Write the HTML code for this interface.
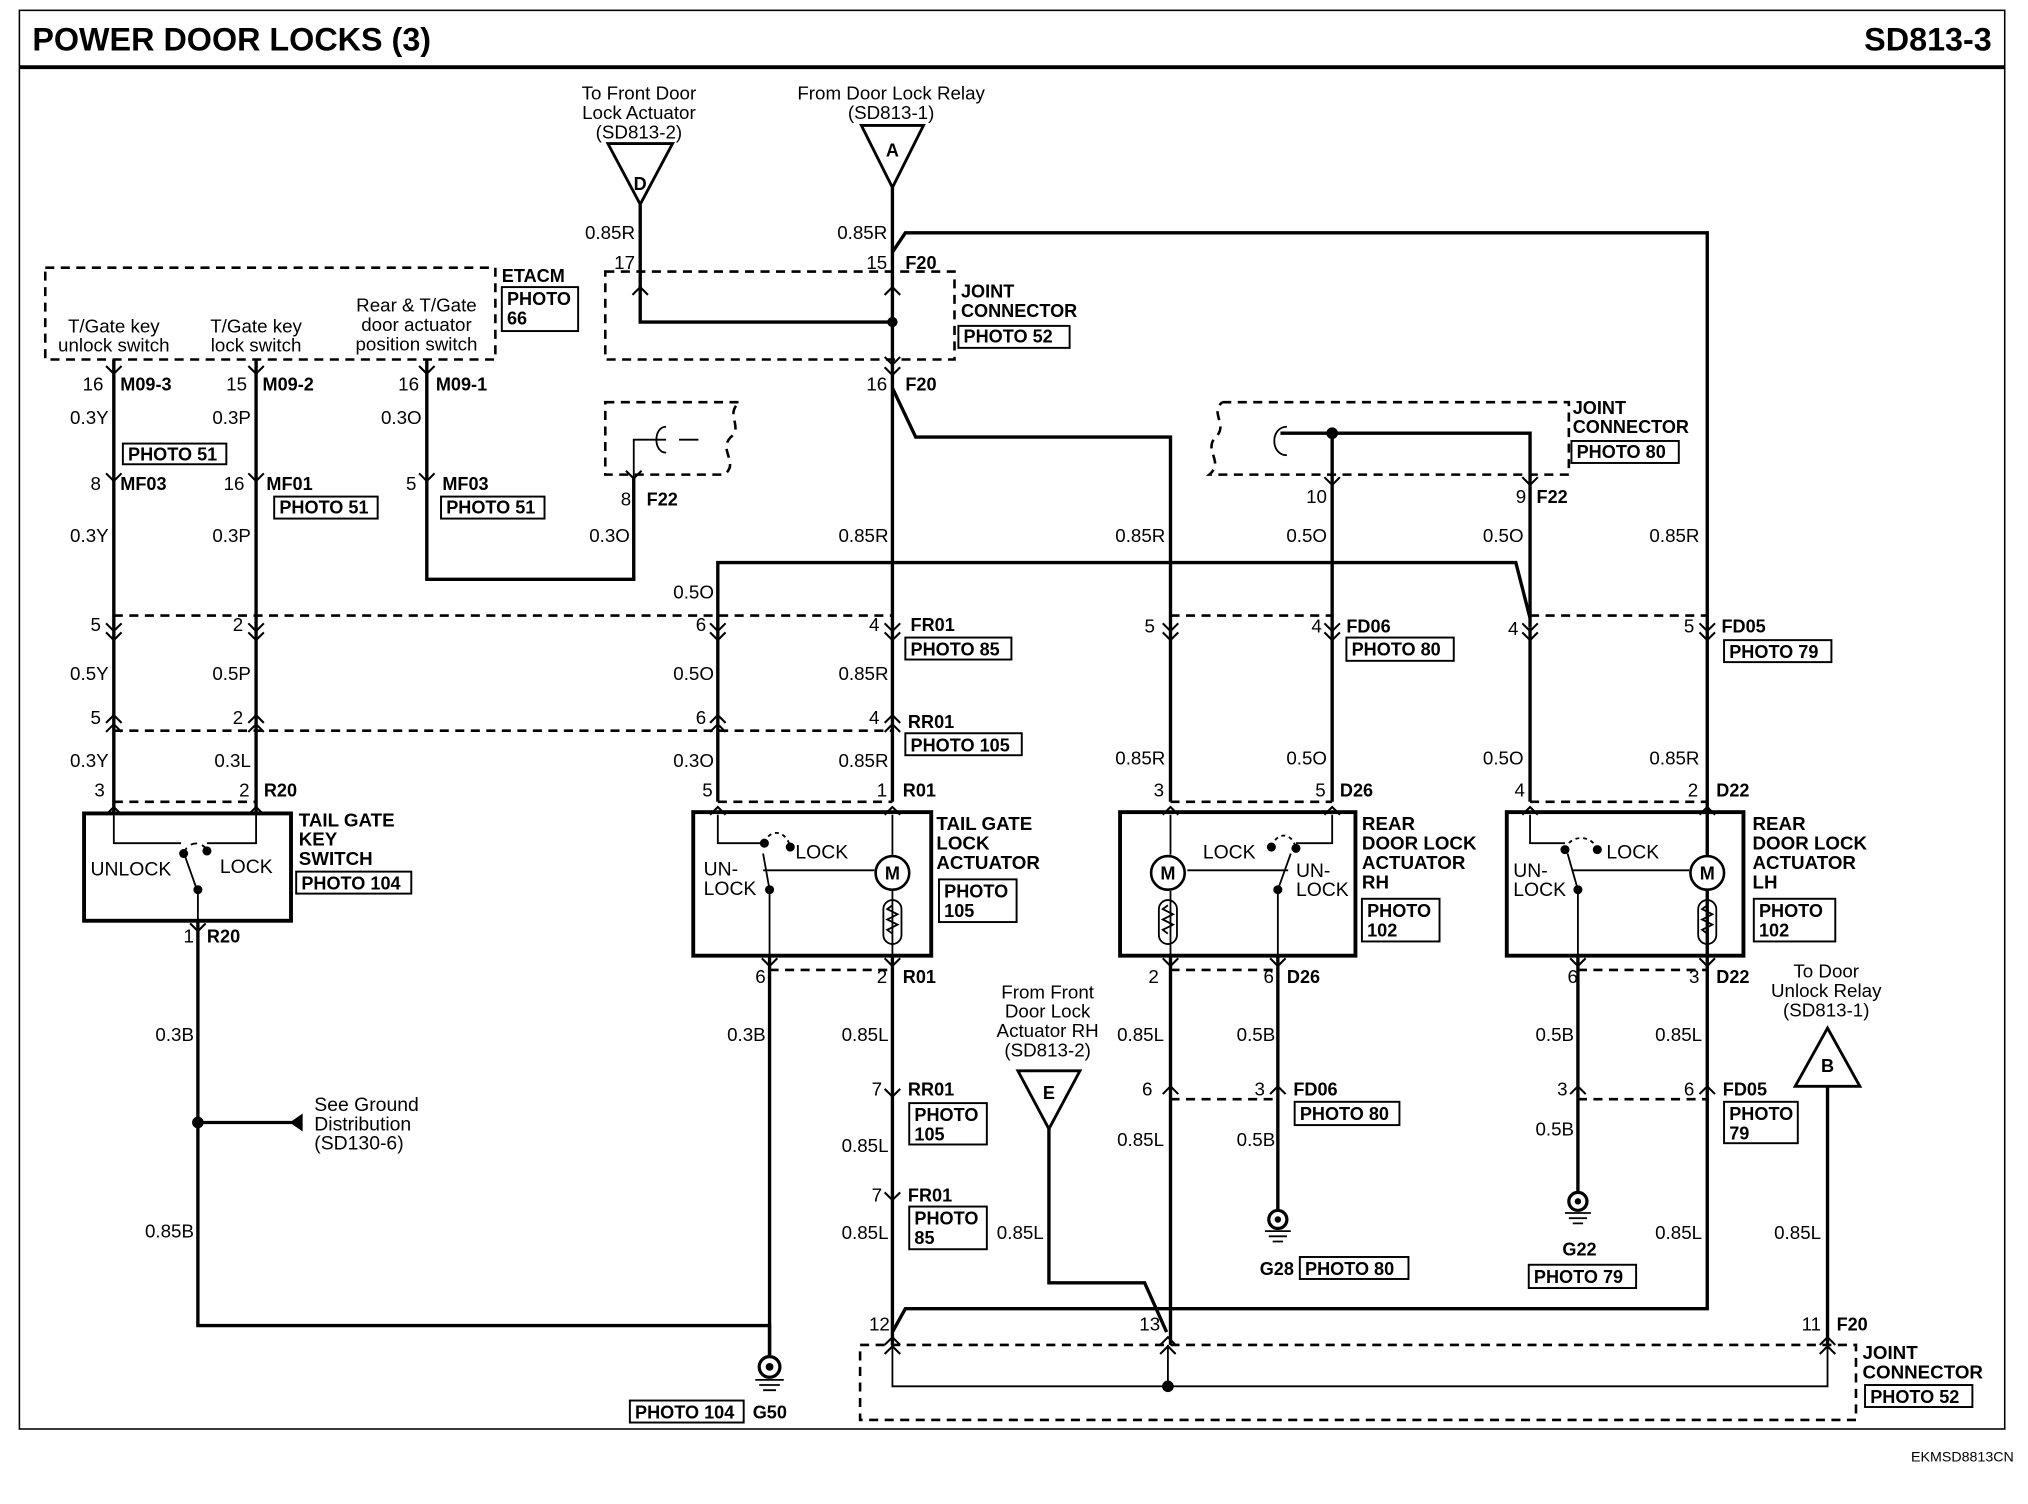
<!DOCTYPE html>
<html><head><meta charset="utf-8"><style>
html,body{margin:0;padding:0;background:#fff}
svg{display:block}
text{font-family:"Liberation Sans",Arial,sans-serif;fill:#000}
.t{font-size:14.5px}
.b{font-size:14px;font-weight:bold}
.w{stroke:#000;stroke-width:2.6;fill:none}
.n{stroke:#000;stroke-width:1.4;fill:none}
.d{stroke:#000;stroke-width:2;fill:none;stroke-dasharray:7,5}
.dt{stroke:#000;stroke-width:1.4;fill:none;stroke-dasharray:5,4}
.c{stroke:#000;stroke-width:1.6;fill:none}
.box{stroke:#000;stroke-width:3;fill:none}
.pb{stroke:#000;stroke-width:1.5;fill:none}
</style></head><body>
<svg width="2028" height="1504" viewBox="0 0 1568 1163" preserveAspectRatio="none" xmlns="http://www.w3.org/2000/svg">
<rect x="0" y="0" width="1568" height="1163" fill="#fff"/>
<rect x="15" y="8" width="1535" height="1097" fill="none" stroke="#000" stroke-width="1.2"/>
<line x1="15" y1="52" x2="1550" y2="52" stroke="#000" stroke-width="3"/>
<text x="25" y="39" style="font-size:25px;font-weight:bold">POWER DOOR LOCKS (3)</text>
<text x="1540" y="39" text-anchor="end" style="font-size:25px;font-weight:bold">SD813-3</text>
<text x="1557" y="1130" text-anchor="end" style="font-size:11px">EKMSD8813CN</text>

<polygon points="470,111 520,111 495,158" fill="#fff" stroke="#000" stroke-width="2.2"/>
<text x="495" y="147" text-anchor="middle" class="b">D</text>
<text x="494" y="77" text-anchor="middle" class="t">To Front Door</text>
<text x="494" y="92" text-anchor="middle" class="t">Lock Actuator</text>
<text x="494" y="107" text-anchor="middle" class="t">(SD813-2)</text>
<polygon points="666,97 714,97 690,145" fill="#fff" stroke="#000" stroke-width="2.2"/>
<text x="690" y="121" text-anchor="middle" class="b">A</text>
<text x="689" y="77" text-anchor="middle" class="t">From Door Lock Relay</text>
<text x="689" y="92" text-anchor="middle" class="t">(SD813-1)</text>
<polygon points="787,828 835,828 811,873" fill="#fff" stroke="#000" stroke-width="2.2"/>
<text x="811" y="850" text-anchor="middle" class="b">E</text>
<text x="810" y="772" text-anchor="middle" class="t">From Front</text>
<text x="810" y="787" text-anchor="middle" class="t">Door Lock</text>
<text x="810" y="802" text-anchor="middle" class="t">Actuator RH</text>
<text x="810" y="817" text-anchor="middle" class="t">(SD813-2)</text>
<polygon points="1388,840 1438,840 1413,795" fill="#fff" stroke="#000" stroke-width="2.2"/>
<text x="1413" y="829" text-anchor="middle" class="b">B</text>
<text x="1412" y="756" text-anchor="middle" class="t">To Door</text>
<text x="1412" y="771" text-anchor="middle" class="t">Unlock Relay</text>
<text x="1412" y="786" text-anchor="middle" class="t">(SD813-1)</text>

<rect x="468" y="210" width="270" height="68" class="d"/>
<text x="743" y="230" class="b">JOINT</text>
<text x="743" y="245" class="b">CONNECTOR</text>
<rect x="741" y="252" width="86" height="17" class="pb"/><text x="745" y="265" class="b">PHOTO 52</text>
<path class="w" d="M495 158 V249 H690"/>
<circle cx="690" cy="249" r="4"/>
<path class="w" d="M690 145 V620"/>
<path class="w" d="M690 195 L700 180 H1320 V1012 H700 L690 1030"/>
<path class="c" d="M489 228 L495 222 L501 228 M684 228 L690 222 L696 228 M684 284 L690 290 L696 284 M684 276 L690 282 L696 276"/>
<text x="491" y="185" text-anchor="end" class="t">0.85R</text>
<text x="491" y="208" text-anchor="end" class="t">17</text>
<text x="686" y="185" text-anchor="end" class="t">0.85R</text>
<text x="686" y="208" text-anchor="end" class="t">15</text><text x="700" y="208" class="b">F20</text>
<text x="686" y="302" text-anchor="end" class="t">16</text><text x="700" y="302" class="b">F20</text>
<path class="w" d="M690 300 L708 338 H905 V620"/>

<rect x="35" y="207" width="348" height="71" class="d"/>
<text x="388" y="218" class="b">ETACM</text>
<rect x="388" y="222" width="59" height="34" class="pb"/><text x="392" y="236" class="b">PHOTO</text><text x="392" y="251" class="b">66</text>
<text x="88" y="257" text-anchor="middle" class="t">T/Gate key</text><text x="88" y="272" text-anchor="middle" class="t">unlock switch</text>
<text x="198" y="257" text-anchor="middle" class="t">T/Gate key</text><text x="198" y="272" text-anchor="middle" class="t">lock switch</text>
<text x="322" y="241" text-anchor="middle" class="t">Rear &amp; T/Gate</text><text x="322" y="256" text-anchor="middle" class="t">door actuator</text><text x="322" y="271" text-anchor="middle" class="t">position switch</text>
<path class="w" d="M88 278 V628 M198 278 V628 M330 278 V448 H490 V370"/>
<path class="c" d="M82 283 L88 289 L94 283 M192 283 L198 289 L204 283 M324 283 L330 289 L336 283 M82 366 L88 372 L94 366 M192 366 L198 372 L204 366 M324 366 L330 372 L336 366"/>
<text x="80" y="302" text-anchor="end" class="t">16</text><text x="93" y="302" class="b">M09-3</text>
<text x="191" y="302" text-anchor="end" class="t">15</text><text x="203" y="302" class="b">M09-2</text>
<text x="324" y="302" text-anchor="end" class="t">16</text><text x="337" y="302" class="b">M09-1</text>
<text x="84" y="328" text-anchor="end" class="t">0.3Y</text><text x="194" y="328" text-anchor="end" class="t">0.3P</text><text x="326" y="328" text-anchor="end" class="t">0.3O</text>
<rect x="95" y="343" width="80" height="16" class="pb"/><text x="99" y="356" class="b">PHOTO 51</text>
<text x="78" y="379" text-anchor="end" class="t">8</text><text x="93" y="379" class="b">MF03</text>
<text x="189" y="379" text-anchor="end" class="t">16</text><text x="206" y="379" class="b">MF01</text>
<rect x="212" y="384" width="80" height="17" class="pb"/><text x="216" y="397" class="b">PHOTO 51</text>
<text x="322" y="379" text-anchor="end" class="t">5</text><text x="342" y="379" class="b">MF03</text>
<rect x="341" y="384" width="80" height="17" class="pb"/><text x="345" y="397" class="b">PHOTO 51</text>
<text x="84" y="419" text-anchor="end" class="t">0.3Y</text><text x="194" y="419" text-anchor="end" class="t">0.3P</text>

<path class="d" d="M468 311 H572 C560 320 575 330 565 338 C555 348 572 358 560 367 H468 Z"/>
<path class="n" d="M490 370 V340 H515 M515 330 C505 330 505 350 515 350 M525 340 H540"/>
<path class="c" d="M484 364 L490 370 L496 364"/>
<text x="488" y="391" text-anchor="end" class="t">8</text><text x="500" y="391" class="b">F22</text>
<text x="487" y="419" text-anchor="end" class="t">0.3O</text>

<path class="d" d="M945 311 H1213 V367 H935 C947 357 930 348 940 338 C950 328 935 320 945 311"/>
<path class="n" d="M995 330 C982 330 982 352 995 352"/>
<path class="w" d="M990 335 H1183 V485 M1030 335 V620"/>
<path class="w" d="M555 620 V435 H1172 L1183 478"/>
<path class="w" d="M1183 485 V620"/>
<circle cx="1030" cy="335" r="4.5"/>
<path class="c" d="M1024 369 L1030 375 L1036 369 M1177 369 L1183 375 L1189 369"/>
<text x="1026" y="389" text-anchor="end" class="t">10</text>
<text x="1180" y="389" text-anchor="end" class="t">9</text><text x="1188" y="389" class="b">F22</text>
<text x="1216" y="320" class="b">JOINT</text><text x="1216" y="335" class="b">CONNECTOR</text>
<rect x="1215" y="341" width="83" height="17" class="pb"/><text x="1219" y="354" class="b">PHOTO 80</text>
<text x="687" y="419" text-anchor="end" class="t">0.85R</text>
<text x="901" y="419" text-anchor="end" class="t">0.85R</text>
<text x="1026" y="419" text-anchor="end" class="t">0.5O</text>
<text x="1178" y="419" text-anchor="end" class="t">0.5O</text>
<text x="1314" y="419" text-anchor="end" class="t">0.85R</text>
<text x="552" y="463" text-anchor="end" class="t">0.5O</text>

<path class="d" d="M88 476 H690 M905 476 H1030 M1183 476 H1320"/>
<path class="d" d="M88 565 H690"/>
<path class="c" d="M82 482 L88 488 L94 482 M82 489 L88 495 L94 489 M192 482 L198 488 L204 482 M192 489 L198 495 L204 489 M549 482 L555 488 L561 482 M549 489 L555 495 L561 489 M684 482 L690 488 L696 482 M684 489 L690 495 L696 489 M899 482 L905 488 L911 482 M899 489 L905 495 L911 489 M1024 482 L1030 488 L1036 482 M1024 489 L1030 495 L1036 489 M1177 482 L1183 488 L1189 482 M1177 489 L1183 495 L1189 489 M1314 482 L1320 488 L1326 482 M1314 489 L1320 495 L1326 489"/>
<text x="78" y="488" text-anchor="end" class="t">5</text><text x="188" y="488" text-anchor="end" class="t">2</text><text x="546" y="488" text-anchor="end" class="t">6</text><text x="680" y="488" text-anchor="end" class="t">4</text><text x="704" y="488" class="b">FR01</text>
<rect x="700" y="493" width="82" height="17" class="pb"/><text x="704" y="507" class="b">PHOTO 85</text>
<text x="893" y="489" text-anchor="end" class="t">5</text><text x="1022" y="489" text-anchor="end" class="t">4</text><text x="1041" y="489" class="b">FD06</text>
<rect x="1041" y="493" width="83" height="18" class="pb"/><text x="1045" y="507" class="b">PHOTO 80</text>
<text x="1174" y="491" text-anchor="end" class="t">4</text><text x="1310" y="489" text-anchor="end" class="t">5</text><text x="1331" y="489" class="b">FD05</text>
<rect x="1333" y="495" width="83" height="17" class="pb"/><text x="1337" y="509" class="b">PHOTO 79</text>
<text x="84" y="526" text-anchor="end" class="t">0.5Y</text><text x="194" y="526" text-anchor="end" class="t">0.5P</text><text x="552" y="526" text-anchor="end" class="t">0.5O</text><text x="687" y="526" text-anchor="end" class="t">0.85R</text>
<path class="c" d="M82 559 L88 553 L94 559 M82 566 L88 560 L94 566 M192 559 L198 553 L204 559 M192 566 L198 560 L204 566 M549 559 L555 553 L561 559 M549 566 L555 560 L561 566 M684 559 L690 553 L696 559 M684 566 L690 560 L696 566"/>
<text x="78" y="560" text-anchor="end" class="t">5</text><text x="188" y="560" text-anchor="end" class="t">2</text><text x="546" y="560" text-anchor="end" class="t">6</text><text x="680" y="560" text-anchor="end" class="t">4</text><text x="702" y="563" class="b">RR01</text>
<rect x="700" y="567" width="90" height="17" class="pb"/><text x="704" y="581" class="b">PHOTO 105</text>
<text x="84" y="593" text-anchor="end" class="t">0.3Y</text><text x="194" y="593" text-anchor="end" class="t">0.3L</text><text x="552" y="593" text-anchor="end" class="t">0.3O</text><text x="687" y="593" text-anchor="end" class="t">0.85R</text>
<text x="901" y="591" text-anchor="end" class="t">0.85R</text><text x="1026" y="591" text-anchor="end" class="t">0.5O</text><text x="1178" y="591" text-anchor="end" class="t">0.5O</text><text x="1314" y="591" text-anchor="end" class="t">0.85R</text>

<path class="d" d="M88 620 H198 M555 620 H690 M905 620 H1030 M1183 620 H1320"/>
<path class="d" d="M595 750 H690 M905 750 H988 M1220 750 H1320"/>
<path class="d" d="M905 850 H988 M1220 850 H1320"/>
<path class="c" d="M82 630 L88 624 L94 630 M192 630 L198 624 L204 630 M549 630 L555 624 L561 630 M684 630 L690 624 L696 630 M899 630 L905 624 L911 630 M1024 630 L1030 624 L1036 630 M1177 630 L1183 624 L1189 630 M1314 630 L1320 624 L1326 630"/>
<text x="81" y="616" text-anchor="end" class="t">3</text><text x="193" y="616" text-anchor="end" class="t">2</text><text x="204" y="616" class="b">R20</text>
<text x="551" y="616" text-anchor="end" class="t">5</text><text x="686" y="616" text-anchor="end" class="t">1</text><text x="698" y="616" class="b">R01</text>
<text x="900" y="616" text-anchor="end" class="t">3</text><text x="1025" y="616" text-anchor="end" class="t">5</text><text x="1036" y="616" class="b">D26</text>
<text x="1179" y="616" text-anchor="end" class="t">4</text><text x="1313" y="616" text-anchor="end" class="t">2</text><text x="1327" y="616" class="b">D22</text>

<rect x="65" y="629" width="160" height="83" class="box"/>
<path class="n" d="M88 629 V652 H140 M198 629 V652 H160 M153 712 V690 L143 662"/>
<circle cx="142" cy="660" r="3.5"/><circle cx="160" cy="658" r="3.5"/><circle cx="153" cy="688" r="3.5"/>
<path class="dt" d="M142 660 C145 650 157 650 160 658"/>
<text x="70" y="677" class="t" style="font-size:15px">UNLOCK</text><text x="170" y="675" class="t" style="font-size:15px">LOCK</text>
<text x="231" y="639" class="b" style="font-size:14.5px">TAIL GATE</text><text x="231" y="654" class="b" style="font-size:14.5px">KEY</text><text x="231" y="669" class="b" style="font-size:14.5px">SWITCH</text>
<rect x="229" y="674" width="89" height="17" class="pb"/><text x="233" y="688" class="b">PHOTO 104</text>
<path class="c" d="M147 714 L153 720 L159 714"/>
<text x="150" y="729" text-anchor="end" class="t">1</text><text x="160" y="729" class="b">R20</text>
<path class="w" d="M153 712 V1025 H595 V1048 M153 868 H232"/>
<circle cx="153" cy="868" r="4.5"/>
<polygon points="224,868 234,861 234,875"/>
<text x="243" y="859" class="t" style="font-size:15px">See Ground</text><text x="243" y="874" class="t" style="font-size:15px">Distribution</text><text x="243" y="889" class="t" style="font-size:15px">(SD130-6)</text>
<text x="150" y="805" text-anchor="end" class="t">0.3B</text><text x="150" y="957" text-anchor="end" class="t">0.85B</text>

<rect x="536" y="628" width="184" height="111" class="box"/>
<path class="n" d="M555 630 V652 H591 M595 750 V688 L590 660 M690 630 V661 M690 689 V750 M590 673 H676"/>
<path class="dt" d="M591 652 C595 640 608 642 611 655" style="stroke-dasharray:3,3"/>
<circle cx="591" cy="652" r="3.5"/><circle cx="611" cy="655" r="3.5"/><circle cx="595" cy="688" r="3.5"/>
<circle cx="690" cy="675" r="13" fill="#fff" stroke="#000" stroke-width="2"/><text x="690" y="680" text-anchor="middle" class="b">M</text>
<rect x="683" y="696" width="14" height="34" rx="7" class="n"/><path class="n" d="M690 700 l-4 3 l8 4 l-8 4 l8 4 l-8 4 l4 3"/>
<text x="544" y="677" class="t" style="font-size:15px">UN-</text><text x="544" y="692" class="t" style="font-size:15px">LOCK</text><text x="615" y="664" class="t" style="font-size:15px">LOCK</text>
<text x="724" y="642" class="b" style="font-size:14.5px">TAIL GATE</text><text x="724" y="657" class="b" style="font-size:14.5px">LOCK</text><text x="724" y="672" class="b" style="font-size:14.5px">ACTUATOR</text>
<rect x="726" y="680" width="60" height="33" class="pb"/><text x="730" y="694" class="b">PHOTO</text><text x="730" y="709" class="b">105</text>
<path class="c" d="M589 741 L595 747 L601 741 M684 741 L690 747 L696 741 M684 842 L690 848 L696 842 M684 922 L690 928 L696 922"/>
<text x="592" y="760" text-anchor="end" class="t">6</text><text x="686" y="760" text-anchor="end" class="t">2</text><text x="698" y="760" class="b">R01</text>
<path class="w" d="M595 739 V1048 M690 739 V1040"/>
<text x="592" y="805" text-anchor="end" class="t">0.3B</text><text x="687" y="805" text-anchor="end" class="t">0.85L</text>
<text x="682" y="847" text-anchor="end" class="t">7</text><text x="702" y="847" class="b">RR01</text>
<rect x="703" y="853" width="60" height="32" class="pb"/><text x="707" y="867" class="b">PHOTO</text><text x="707" y="882" class="b">105</text>
<text x="687" y="891" text-anchor="end" class="t">0.85L</text>
<text x="682" y="929" text-anchor="end" class="t">7</text><text x="702" y="929" class="b">FR01</text>
<rect x="703" y="933" width="60" height="33" class="pb"/><text x="707" y="947" class="b">PHOTO</text><text x="707" y="962" class="b">85</text>
<text x="687" y="958" text-anchor="end" class="t">0.85L</text>
<circle cx="595" cy="1057" r="8" fill="#fff" stroke="#000" stroke-width="2.5"/><circle cx="595" cy="1057" r="3"/>
<path class="n" d="M584 1067 H606 M587 1071 H603 M590 1075 H600"/>
<rect x="487" y="1083" width="88" height="17" class="pb"/><text x="491" y="1097" class="b">PHOTO 104</text>
<text x="582" y="1097" class="b">G50</text>

<rect x="866" y="628" width="182" height="111" class="box"/>
<path class="n" d="M905 630 V661 M905 689 V750 M1030 630 V652 H1002 M988 750 V688 L998 660 M918 673 H996"/>
<circle cx="983" cy="655" r="3.5"/><circle cx="1002" cy="656" r="3.5"/><circle cx="988" cy="688" r="3.5"/>
<path class="dt" d="M983 655 C987 643 999 643 1002 656" style="stroke-dasharray:3,3"/>
<circle cx="903" cy="675" r="13" fill="#fff" stroke="#000" stroke-width="2"/><text x="903" y="680" text-anchor="middle" class="b">M</text>
<rect x="896" y="696" width="14" height="34" rx="7" class="n"/><path class="n" d="M903 700 l-4 3 l8 4 l-8 4 l8 4 l-8 4 l4 3"/>
<text x="930" y="664" class="t" style="font-size:15px">LOCK</text><text x="1002" y="678" class="t" style="font-size:15px">UN-</text><text x="1002" y="693" class="t" style="font-size:15px">LOCK</text>
<text x="1053" y="642" class="b" style="font-size:14.5px">REAR</text><text x="1053" y="657" class="b" style="font-size:14.5px">DOOR LOCK</text><text x="1053" y="672" class="b" style="font-size:14.5px">ACTUATOR</text><text x="1053" y="687" class="b" style="font-size:14.5px">RH</text>
<rect x="1053" y="695" width="60" height="33" class="pb"/><text x="1057" y="709" class="b">PHOTO</text><text x="1057" y="724" class="b">102</text>
<path class="c" d="M899 741 L905 747 L911 741 M982 741 L988 747 L994 741 M899 846 L905 840 L911 846 M982 846 L988 840 L994 846"/>
<text x="896" y="760" text-anchor="end" class="t">2</text><text x="985" y="760" text-anchor="end" class="t">6</text><text x="995" y="760" class="b">D26</text>
<path class="w" d="M905 739 V1040 M988 739 V938 M811 873 V992 H885 L902 1030"/>
<text x="900" y="805" text-anchor="end" class="t">0.85L</text><text x="986" y="805" text-anchor="end" class="t">0.5B</text>
<text x="891" y="847" text-anchor="end" class="t">6</text><text x="978" y="847" text-anchor="end" class="t">3</text><text x="1000" y="847" class="b">FD06</text>
<rect x="1001" y="852" width="81" height="18" class="pb"/><text x="1005" y="866" class="b">PHOTO 80</text>
<text x="900" y="886" text-anchor="end" class="t">0.85L</text><text x="986" y="886" text-anchor="end" class="t">0.5B</text>
<text x="807" y="958" text-anchor="end" class="t">0.85L</text>
<circle cx="988" cy="943" r="7" fill="#fff" stroke="#000" stroke-width="2.5"/><circle cx="988" cy="943" r="2.5"/>
<path class="n" d="M978 952 H998 M981 956 H995 M984 960 H992"/>
<text x="974" y="986" class="b">G28</text>
<rect x="1005" y="972" width="84" height="17" class="pb"/><text x="1009" y="986" class="b">PHOTO 80</text>

<rect x="1165" y="628" width="183" height="111" class="box"/>
<path class="n" d="M1183 630 V652 H1210 M1220 750 V688 L1212 660 M1320 630 V661 M1320 689 V750 M1215 673 H1306"/>
<circle cx="1210" cy="657" r="3.5"/><circle cx="1235" cy="657" r="3.5"/><circle cx="1220" cy="688" r="3.5"/>
<path class="dt" d="M1210 657 C1214 645 1231 645 1235 657" style="stroke-dasharray:3,3"/>
<circle cx="1320" cy="675" r="13" fill="#fff" stroke="#000" stroke-width="2"/><text x="1320" y="680" text-anchor="middle" class="b">M</text>
<rect x="1313" y="696" width="14" height="34" rx="7" class="n"/><path class="n" d="M1320 700 l-4 3 l8 4 l-8 4 l8 4 l-8 4 l4 3"/>
<text x="1170" y="678" class="t" style="font-size:15px">UN-</text><text x="1170" y="693" class="t" style="font-size:15px">LOCK</text><text x="1242" y="664" class="t" style="font-size:15px">LOCK</text>
<text x="1355" y="642" class="b" style="font-size:14.5px">REAR</text><text x="1355" y="657" class="b" style="font-size:14.5px">DOOR LOCK</text><text x="1355" y="672" class="b" style="font-size:14.5px">ACTUATOR</text><text x="1355" y="687" class="b" style="font-size:14.5px">LH</text>
<rect x="1356" y="695" width="63" height="33" class="pb"/><text x="1360" y="709" class="b">PHOTO</text><text x="1360" y="724" class="b">102</text>
<path class="c" d="M1214 741 L1220 747 L1226 741 M1314 741 L1320 747 L1326 741 M1214 846 L1220 840 L1226 846 M1314 846 L1320 840 L1326 846"/>
<text x="1220" y="760" text-anchor="end" class="t">6</text><text x="1314" y="760" text-anchor="end" class="t">3</text><text x="1327" y="760" class="b">D22</text>
<path class="w" d="M1220 739 V924"/>
<text x="1217" y="805" text-anchor="end" class="t">0.5B</text><text x="1316" y="805" text-anchor="end" class="t">0.85L</text>
<text x="1212" y="847" text-anchor="end" class="t">3</text><text x="1310" y="847" text-anchor="end" class="t">6</text><text x="1332" y="847" class="b">FD05</text>
<rect x="1333" y="852" width="57" height="32" class="pb"/><text x="1337" y="866" class="b">PHOTO</text><text x="1337" y="881" class="b">79</text>
<text x="1217" y="878" text-anchor="end" class="t">0.5B</text>
<text x="1316" y="958" text-anchor="end" class="t">0.85L</text>
<circle cx="1220" cy="929" r="7" fill="#fff" stroke="#000" stroke-width="2.5"/><circle cx="1220" cy="929" r="2.5"/>
<path class="n" d="M1210 938 H1230 M1213 942 H1227 M1216 946 H1224"/>
<text x="1208" y="971" class="b">G22</text>
<rect x="1182" y="978" width="83" height="18" class="pb"/><text x="1186" y="992" class="b">PHOTO 79</text>

<path class="w" d="M1413 840 V1040"/>
<text x="1408" y="958" text-anchor="end" class="t">0.85L</text>

<rect x="665" y="1040" width="770" height="58" class="d"/>
<path class="n" d="M690 1040 V1072 H1413 V1040 M903 1040 V1072"/>
<circle cx="903" cy="1072" r="4.5"/>
<path class="c" d="M684 1040 L690 1034 L696 1040 M684 1047 L690 1041 L696 1047 M897 1040 L903 1034 L909 1040 M897 1047 L903 1041 L909 1047 M1407 1040 L1413 1034 L1419 1040 M1407 1047 L1413 1041 L1419 1047"/>
<text x="688" y="1029" text-anchor="end" class="t">12</text><text x="897" y="1029" text-anchor="end" class="t">13</text>
<text x="1408" y="1029" text-anchor="end" class="t">11</text><text x="1420" y="1029" class="b">F20</text>
<text x="1440" y="1051" class="b" style="font-size:14.5px">JOINT</text><text x="1440" y="1066" class="b" style="font-size:14.5px">CONNECTOR</text>
<rect x="1442" y="1071" width="83" height="17" class="pb"/><text x="1446" y="1085" class="b">PHOTO 52</text>
</svg>
</body></html>
